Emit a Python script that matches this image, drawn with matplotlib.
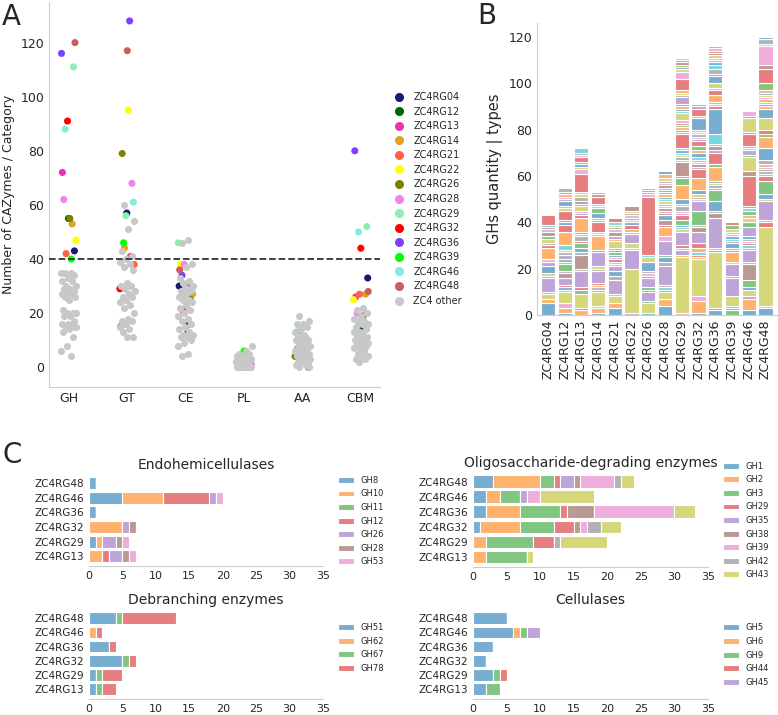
import matplotlib
matplotlib.use('Agg')
import matplotlib.pyplot as plt
from matplotlib.lines import Line2D
from matplotlib.colors import to_rgba
import numpy as np

plt.rcParams.update({'font.family': 'DejaVu Sans', 'text.color': '#262626',
                     'axes.labelcolor': '#262626', 'xtick.color': '#262626',
                     'ytick.color': '#262626', 'axes.edgecolor': '#cccccc',
                     'xtick.major.size': 0, 'ytick.major.size': 0})

# ---------------- data ----------------
GENOMES = ['ZC4RG04', 'ZC4RG12', 'ZC4RG13', 'ZC4RG14', 'ZC4RG21', 'ZC4RG22', 'ZC4RG26',
           'ZC4RG28', 'ZC4RG29', 'ZC4RG32', 'ZC4RG36', 'ZC4RG39', 'ZC4RG46', 'ZC4RG48']
GENOME_COLORS = ['#191970', '#006400', '#e933b5', '#daa520', '#ff6347', '#ffff00', '#808000',
                 '#ee82ee', '#8af0b0', '#ff0000', '#7f3fff', '#00ff00', '#80eedd', '#cd5c5c']
OTHER_COLOR = '#c8c8c8'
CATEGORIES = ['GH', 'GT', 'CE', 'PL', 'AA', 'CBM']

# A: per-genome counts (same order as GENOMES)
gh_genomes = [43, 55, 72, 53, 42, 47, 55, 62, 111, 91, 116, 40, 88, 120]
gt_genomes = [57, 15, 41, 44, 38, 95, 79, 68, 56, 29, 128, 46, 61, 117]
ce_genomes = [30, 16, 21, 27, 30, 38, 25, 38, 46, 13, 34, 28, 29, 36]
pl_genomes = [1, 0, 1, 2, 2, 3, 2, 2, 1, 1, 2, 6, 2, 4]
aa_genomes = [5, 3, 9, 7, 8, 13, 4, 6, 12, 0, 7, 13, 11, 8]
cbm_genomes = [33, 15, 26, 27, 27, 25, 19, 20, 52, 44, 80, 16, 50, 28]

# A: other ZC4 genomes
gh_other = [35, 35, 35, 34, 33, 32, 32, 30, 30, 29, 29, 28, 28, 27, 27, 26, 26, 25, 21, 20,
            20, 20, 19, 19, 17, 16, 16, 15, 15, 15, 14, 13, 11, 8, 6, 4]
gt_other = [60, 54, 51, 43, 41, 40, 39, 38, 37, 36, 31, 30, 30, 29, 28, 27, 26, 26, 25, 24,
            23, 22, 20, 18, 17, 17, 16, 15, 14, 13, 11, 11]
ce_other = [47, 46, 38, 37, 33, 32, 31, 30, 29, 28, 28, 27, 26, 25, 25, 24, 23, 22, 21, 20,
            19, 18, 17, 16, 15, 14, 13, 12, 12, 11, 11, 10, 9, 8, 5, 4]
pl_other = [8, 6, 5, 5, 4, 4, 4, 3, 3, 3, 3, 2, 2, 2, 2, 2, 1, 1, 1, 1, 1, 0, 0, 0, 0, 0,
            0, 0, 0, 0, 0, 0]
aa_other = [19, 17, 16, 16, 15, 14, 13, 12, 11, 10, 10, 10, 9, 9, 8, 8, 7, 7, 6, 6, 5, 5, 5,
            4, 4, 4, 3, 3, 3, 2, 2, 2, 1, 1, 0, 0]
cbm_other = [22, 21, 20, 19, 18, 17, 17, 16, 16, 15, 14, 13, 13, 12, 12, 11, 11, 10, 10, 10,
             9, 9, 8, 8, 7, 7, 6, 5, 4, 4, 3, 3, 2]

# B: GH family counts per genome {family index: count}, families stacked in index order
N_FAMILIES = 107
gh_zc4rg04 = {0: 5, 1: 2, 8: 2, 9: 1, 14: 6, 17: 1, 18: 1, 20: 3, 24: 2, 26: 1, 31: 5, 33: 1,
              37: 1, 38: 2, 42: 1, 45: 2, 46: 1, 47: 1, 49: 1, 53: 4}
gh_zc4rg12 = {0: 1, 1: 2, 6: 2, 8: 5, 9: 1, 10: 1, 13: 1, 14: 3, 15: 2, 24: 1, 32: 3, 37: 1,
              42: 1, 44: 2, 47: 1, 48: 1, 49: 2, 51: 6, 53: 3, 60: 1, 62: 1, 63: 4, 68: 1,
              69: 1, 70: 2, 74: 1, 76: 1, 81: 1, 85: 1, 87: 2}
gh_zc4rg13 = {1: 2, 3: 1, 8: 6, 12: 2, 13: 1, 14: 7, 17: 1, 25: 6, 27: 1, 30: 2, 32: 2, 33: 1,
              37: 2, 39: 1, 40: 1, 41: 6, 43: 1, 44: 1, 46: 1, 48: 2, 52: 1, 55: 1, 57: 2,
              58: 1, 61: 1, 63: 8, 66: 2, 68: 1, 70: 1, 72: 1, 73: 2, 76: 1, 77: 1, 79: 2}
gh_zc4rg14 = {0: 1, 1: 2, 6: 1, 8: 6, 12: 1, 17: 1, 21: 1, 23: 1, 24: 5, 27: 1, 28: 1, 34: 6,
              35: 1, 41: 6, 46: 1, 48: 1, 53: 4, 57: 1, 59: 1, 60: 2, 62: 2, 66: 1, 68: 1,
              73: 3, 75: 1, 77: 1}
gh_zc4rg21 = {0: 3, 1: 2, 8: 3, 9: 1, 14: 6, 17: 2, 20: 2, 24: 2, 28: 1, 31: 1, 33: 1, 36: 1,
              40: 1, 42: 1, 43: 1, 47: 1, 48: 3, 51: 1, 54: 1, 55: 2, 56: 1, 57: 1, 58: 1,
              59: 1, 63: 2}
gh_zc4rg22 = {4: 1, 8: 19, 14: 8, 16: 1, 18: 2, 24: 4, 29: 1, 31: 1, 33: 2, 40: 1, 41: 1,
              43: 1, 46: 1, 47: 1, 48: 1, 55: 2}
gh_zc4rg26 = {0: 1, 8: 4, 12: 1, 14: 4, 20: 1, 22: 1, 24: 4, 33: 1, 36: 1, 37: 1, 40: 4,
              48: 2, 49: 1, 53: 25, 56: 1, 64: 1, 65: 1, 67: 1}
gh_zc4rg28 = {0: 4, 1: 3, 8: 3, 12: 1, 19: 1, 27: 1, 34: 8, 37: 2, 40: 2, 42: 1, 44: 6, 46: 2,
              51: 4, 53: 1, 55: 2, 60: 2, 63: 1, 64: 1, 65: 1, 66: 1, 67: 1, 68: 1, 69: 1,
              70: 1, 71: 1, 72: 1, 73: 1, 74: 1, 75: 1, 76: 1, 77: 1, 78: 1, 81: 2, 90: 1}
gh_zc4rg29 = {6: 1, 8: 24, 11: 1, 14: 2, 21: 1, 23: 1, 24: 6, 28: 1, 29: 1, 30: 1, 32: 2,
              33: 2, 34: 1, 36: 1, 37: 2, 38: 1, 40: 2, 41: 6, 42: 3, 43: 1, 45: 6, 46: 1,
              47: 1, 48: 1, 49: 1, 50: 1, 51: 1, 53: 6, 57: 1, 60: 1, 61: 1, 62: 1, 63: 1,
              66: 1, 68: 3, 69: 1, 70: 1, 71: 1, 73: 1, 74: 3, 77: 1, 78: 1, 81: 1, 83: 5,
              86: 3, 88: 1, 90: 1, 92: 1, 93: 1, 95: 1, 96: 1}
gh_zc4rg32 = {0: 1, 1: 5, 6: 2, 8: 16, 11: 1, 13: 1, 19: 1, 21: 2, 23: 2, 24: 5, 25: 2, 27: 1,
              32: 6, 34: 4, 36: 1, 37: 1, 38: 1, 40: 2, 41: 5, 43: 4, 44: 1, 45: 1, 46: 1,
              47: 1, 49: 1, 50: 2, 51: 1, 52: 2, 53: 2, 54: 1, 56: 1, 57: 1, 58: 1, 59: 1,
              60: 5, 61: 1, 63: 3, 64: 1, 67: 1}
gh_zc4rg36 = {0: 2, 2: 1, 8: 24, 13: 1, 19: 1, 24: 13, 25: 2, 27: 1, 30: 4, 32: 5, 34: 1,
              37: 1, 38: 1, 40: 1, 41: 6, 42: 1, 43: 5, 44: 1, 45: 2, 47: 1, 49: 4, 50: 11,
              53: 1, 56: 1, 57: 1, 61: 3, 63: 2, 66: 1, 68: 2, 70: 3, 73: 1, 77: 2, 79: 2,
              80: 1, 84: 1, 86: 1, 88: 1, 93: 1, 95: 1, 96: 1, 97: 1}
gh_zc4rg39 = {2: 2, 3: 1, 4: 1, 8: 4, 14: 8, 17: 1, 24: 5, 26: 1, 31: 4, 33: 1, 37: 1, 40: 2,
              47: 1, 49: 1, 50: 1, 51: 1, 56: 1, 58: 1, 62: 2, 63: 1}
gh_zc4rg46 = {0: 2, 1: 5, 4: 1, 8: 3, 10: 1, 12: 3, 15: 7, 17: 1, 24: 5, 27: 1, 29: 1, 33: 1,
              36: 1, 37: 1, 40: 1, 44: 4, 52: 2, 58: 2, 61: 1, 62: 2, 69: 1, 70: 1, 73: 13,
              75: 2, 78: 6, 82: 1, 84: 2, 86: 1, 87: 1, 93: 5, 95: 1, 98: 6, 100: 1, 106: 2}
gh_zc4rg48 = {0: 3, 6: 1, 8: 34, 13: 2, 19: 1, 24: 8, 28: 1, 30: 2, 32: 6, 33: 2, 34: 1,
              37: 1, 40: 1, 41: 1, 46: 1, 47: 2, 50: 5, 51: 5, 52: 1, 53: 2, 58: 5, 60: 4,
              61: 1, 63: 1, 69: 1, 71: 1, 76: 1, 78: 1, 80: 1, 81: 1, 82: 3, 83: 6, 85: 2,
              86: 8, 88: 1, 97: 2, 100: 1}
gh_stacks = [gh_zc4rg04, gh_zc4rg12, gh_zc4rg13, gh_zc4rg14, gh_zc4rg21, gh_zc4rg22,
             gh_zc4rg26, gh_zc4rg28, gh_zc4rg29, gh_zc4rg32, gh_zc4rg36, gh_zc4rg39,
             gh_zc4rg46, gh_zc4rg48]

# C: selected genomes (bottom to top)
C_GENOMES = ['ZC4RG13', 'ZC4RG29', 'ZC4RG32', 'ZC4RG36', 'ZC4RG46', 'ZC4RG48']
endo_fams = ['GH8', 'GH10', 'GH11', 'GH12', 'GH26', 'GH28', 'GH53']
endo_counts = [[0, 1, 0, 1, 5, 1],
               [2, 1, 5, 0, 6, 0],
               [0, 0, 0, 0, 0, 0],
               [1, 0, 0, 0, 7, 0],
               [2, 2, 1, 0, 1, 0],
               [1, 1, 1, 0, 0, 0],
               [1, 1, 0, 0, 1, 0]]
oligo_fams = ['GH1', 'GH2', 'GH3', 'GH29', 'GH35', 'GH38', 'GH39', 'GH42', 'GH43']
oligo_counts = [[0, 0, 1, 2, 2, 3],
                [2, 2, 6, 5, 2, 7],
                [6, 7, 5, 6, 3, 2],
                [0, 3, 3, 1, 0, 1],
                [0, 0, 0, 0, 1, 2],
                [0, 0, 1, 4, 0, 1],
                [0, 0, 1, 12, 2, 5],
                [0, 1, 2, 0, 0, 1],
                [1, 7, 3, 3, 8, 2]]
debr_fams = ['GH51', 'GH62', 'GH67', 'GH78']
debr_counts = [[1, 1, 5, 3, 0, 4],
               [0, 0, 0, 0, 1, 0],
               [1, 1, 1, 0, 0, 1],
               [2, 3, 1, 1, 1, 8]]
cell_fams = ['GH5', 'GH6', 'GH9', 'GH44', 'GH45']
cell_counts = [[2, 3, 2, 3, 6, 5],
               [0, 0, 0, 0, 1, 0],
               [2, 1, 0, 0, 1, 0],
               [0, 1, 0, 0, 0, 0],
               [0, 0, 0, 0, 2, 0]]

TAB10 = plt.get_cmap('tab10').colors

fig = plt.figure(figsize=(7.78, 7.15), dpi=100)


def fig_axes(left, top, right, bottom):
    W, H = 778.0, 715.0
    return fig.add_axes([left / W, 1 - bottom / H, (right - left) / W, (bottom - top) / H])


# ---------------- A: strip plot ----------------
axA = fig_axes(49, 2, 380, 387)
genome_sets = [gh_genomes, gt_genomes, ce_genomes, pl_genomes, aa_genomes, cbm_genomes]
other_sets = [gh_other, gt_other, ce_other, pl_other, aa_other, cbm_other]


def jitter(n, shift):
    return (((np.arange(n) + shift) * 0.6180339887) % 1 - 0.5) * 0.27


for ci, (gvals, ovals) in enumerate(zip(genome_sets, other_sets)):
    axA.scatter(ci + jitter(len(gvals), 3 + ci), gvals, c=GENOME_COLORS, s=26,
                linewidths=0, zorder=3)
    axA.scatter(ci + jitter(len(ovals), 7 * ci), ovals, color=OTHER_COLOR, s=26,
                linewidths=0, zorder=4)
axA.axhline(40, color='#333333', linestyle='--', linewidth=1.3, zorder=5)
axA.set_xticks(range(len(CATEGORIES)))
axA.set_xticklabels(CATEGORIES, fontsize=9)
axA.set_xlim(-0.34, 5.33)
axA.set_ylim(-7.3, 135)
axA.set_yticks([0, 20, 40, 60, 80, 100, 120])
axA.tick_params(axis='y', labelsize=9)
axA.set_ylabel('Number of CAZymes / Category', fontsize=9)
for s in ['top', 'right']:
    axA.spines[s].set_visible(False)

handles = [Line2D([], [], marker='o', linestyle='', markersize=6.5, markerfacecolor=c,
                  markeredgewidth=0) for c in GENOME_COLORS + [OTHER_COLOR]]
fig.legend(handles, GENOMES + ['ZC4 other'], loc='center left',
           bbox_to_anchor=(385 / 778, 1 - 199 / 715), frameon=False, fontsize=7,
           handletextpad=1.0, labelspacing=0.47, handlelength=1.0)

# ---------------- B: stacked GH families ----------------
axB = fig_axes(537, 23, 778, 315)
counts = np.zeros((len(GENOMES), N_FAMILIES))
for gi, stack in enumerate(gh_stacks):
    for fi, n in stack.items():
        counts[gi, fi] = n
xb = np.arange(len(GENOMES))
bottom = np.zeros(len(GENOMES))
for fi in range(N_FAMILIES):
    mask = counts[:, fi] > 0
    if mask.any():
        axB.bar(xb[mask], counts[mask, fi], bottom=bottom[mask], width=0.85,
                color=to_rgba(TAB10[fi % 10], 0.6), edgecolor='white', linewidth=0.8)
    bottom += counts[:, fi]
axB.set_xticks(xb)
axB.set_xticklabels(GENOMES, rotation=90, fontsize=9)
axB.set_xlim(-0.65, 13.75)
axB.set_ylim(0, 126)
axB.set_yticks([0, 20, 40, 60, 80, 100, 120])
axB.tick_params(axis='y', labelsize=9)
axB.set_ylabel('GHs quantity | types', fontsize=10.5)
for s in ['top', 'right']:
    axB.spines[s].set_visible(False)

# ---------------- C: enzyme groups ----------------
c_panels = [((89, 476, 323, 566), 'Endohemicellulases', endo_fams, endo_counts, 0.5),
            ((473, 474, 708, 567), 'Oligosaccharide-degrading enzymes', oligo_fams,
             oligo_counts, 0.5),
            ((89, 611, 323, 699), 'Debranching enzymes', debr_fams, debr_counts, 0.58),
            ((473, 611, 708, 699), 'Cellulases', cell_fams, cell_counts, 0.5)]
yc = np.arange(len(C_GENOMES))
for box, title, fams, cnts, leg_y in c_panels:
    ax = fig_axes(*box)
    left = np.zeros(len(C_GENOMES))
    for fi, (fam, row) in enumerate(zip(fams, cnts)):
        ax.barh(yc, row, left=left, height=0.82, color=to_rgba(TAB10[fi % 10], 0.6),
                edgecolor='white', linewidth=0.8, label=fam)
        left += np.array(row)
    ax.set_yticks(yc)
    ax.set_yticklabels(C_GENOMES, fontsize=7.5)
    ax.set_xlim(0, 35)
    ax.set_xticks(range(0, 36, 5))
    ax.tick_params(axis='x', labelsize=8)
    ax.set_ylim(-0.68, 5.5)
    ax.set_title(title, fontsize=10, pad=5)
    for s in ['top', 'right', 'left']:
        ax.spines[s].set_visible(False)
    ax.legend(loc='center left', bbox_to_anchor=(1.03, leg_y), frameon=False, fontsize=6,
              handlelength=2.0, labelspacing=0.55)

# panel letters
fig.text(2 / 778, 1 - 25 / 715, 'A', fontsize=20, va='baseline')
fig.text(477 / 778, 1 - 24 / 715, 'B', fontsize=20, va='baseline')
fig.text(2 / 778, 1 - 463 / 715, 'C', fontsize=20, va='baseline')

fig.savefig('out.png', dpi=100)
